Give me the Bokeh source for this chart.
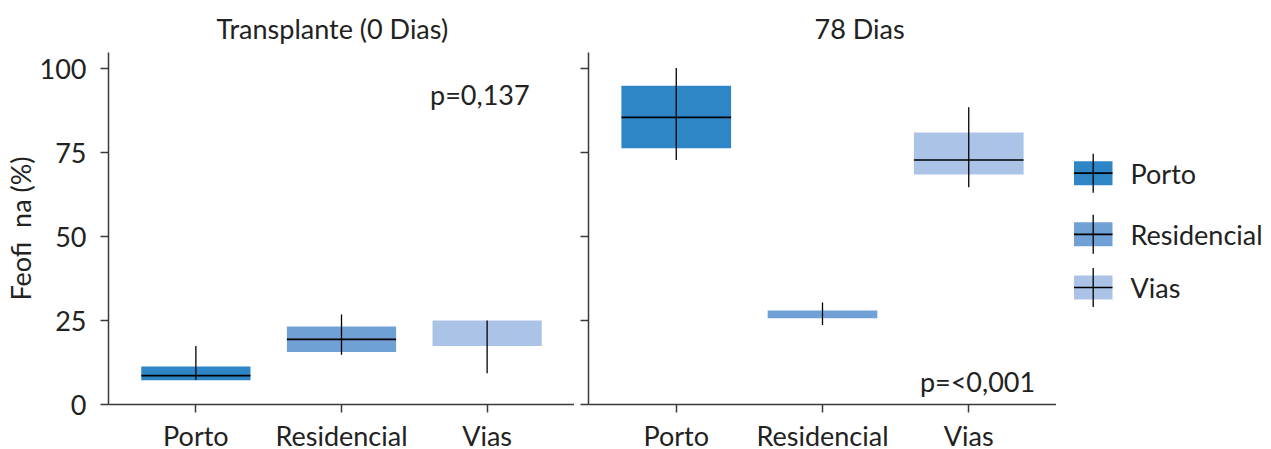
import math
from bokeh.plotting import figure
from bokeh.models import Range1d, FixedTicker, Label, ColumnDataSource
from bokeh.layouts import row
from bokeh.embed import file_html
from bokeh.resources import INLINE
from bokeh.core.properties import value

# ---------------- data ----------------
categories = ["Porto", "Residencial", "Vias"]
colors = ["#2E86C7", "#70A1D6", "#AAC3E6"]
panel_titles = ["Transplante (0 Dias)", "78 Dias"]
p_values = ["p=0,137", "p=<0,001"]
y_label = "Feofi\u00a0\u00a0na (%)"
y_ticks = [0, 25, 50, 75, 100]
nan = float("nan")

t0_low = [7.3, 14.8, 9.3]
t0_q1 = [7.2, 15.6, 17.4]
t0_median = [8.6, 19.4, nan]
t0_q3 = [11.3, 23.2, 25.0]
t0_high = [17.4, 26.8, 25.0]

t78_low = [72.8, 23.7, 64.7]
t78_q1 = [76.3, 25.7, 68.5]
t78_median = [85.5, nan, 72.8]
t78_q3 = [94.9, 28.0, 81.0]
t78_high = [100.2, 30.4, 88.5]

# ---------------- style ----------------
FONT = "Lato"
FS = "27px"
TXT = "#222222"
AXC = "#3a3a3a"
BOX_W = 0.75
TOP, BOTTOM, FH = 52, 45, 352


def make_panel(title, low, q1, med, q3, high, ptext, pxy, first, title_offset):
    p = figure(
        frame_width=466 if first else 468, frame_height=FH,
        x_range=Range1d(-0.6, 2.6), y_range=Range1d(0, 104.8),
        output_backend="svg", toolbar_location=None,
        min_border_left=107 if first else 14, min_border_right=0,
        min_border_top=TOP, min_border_bottom=BOTTOM,
    )
    p.outline_line_color = None
    p.grid.visible = False
    p.background_fill_color = "white"
    p.border_fill_color = "white"

    p.title.text = title
    p.title.align = "left"
    p.title.offset = title_offset
    p.title.text_font = FONT
    p.title.text_font_size = FS
    p.title.text_font_style = "normal"
    p.title.text_color = TXT
    p.title.standoff = 16

    xs = list(range(len(categories)))
    src = ColumnDataSource(dict(
        x=xs, low=low, q1=q1, med=med, q3=q3, high=high, color=colors,
        left=[x - BOX_W / 2 for x in xs], right=[x + BOX_W / 2 for x in xs],
    ))
    p.quad(left="left", right="right", bottom="q1", top="q3", fill_color="color",
           line_color=None, source=src)
    p.segment(x0="x", y0="low", x1="x", y1="high", line_color="black",
              line_width=1.3, source=src)
    p.segment(x0="left", y0="med", x1="right", y1="med", line_color="black",
              line_width=1.7, source=src)

    for ax in (p.xaxis[0], p.yaxis[0]):
        ax.axis_line_color = AXC
        ax.axis_line_width = 1.5
        ax.major_tick_line_color = AXC
        ax.major_tick_line_width = 1.5
        ax.major_tick_in = 0
        ax.major_tick_out = 8
        ax.minor_tick_line_color = None
        ax.major_label_text_font = FONT
        ax.major_label_text_font_size = FS
        ax.major_label_text_color = TXT

    p.xaxis.ticker = FixedTicker(ticks=xs)
    p.xaxis.major_label_overrides = {i: c for i, c in enumerate(categories)}
    p.xaxis.major_label_standoff = 6

    p.yaxis.ticker = FixedTicker(ticks=y_ticks)
    if first:
        p.yaxis.major_label_standoff = 14
        p.yaxis.axis_label = y_label
        p.yaxis.axis_label_text_font = FONT
        p.yaxis.axis_label_text_font_size = FS
        p.yaxis.axis_label_text_font_style = "normal"
        p.yaxis.axis_label_text_color = TXT
        p.yaxis.axis_label_standoff = 0
    else:
        # ticks only, no tick labels drawn
        p.yaxis.major_label_text_font_size = "1px"
        p.yaxis.major_label_text_color = None
        p.yaxis.major_label_standoff = 0

    p.add_layout(Label(x=pxy[0], y=pxy[1], text=ptext, text_align="center",
                       text_baseline="middle", text_font=FONT,
                       text_font_size=FS, text_color=TXT))
    return p


p1 = make_panel(panel_titles[0], t0_low, t0_q1, t0_median, t0_q3, t0_high,
                p_values[0], (1.95, 92.3), True, 108)
p2 = make_panel(panel_titles[1], t78_low, t78_q1, t78_median, t78_q3, t78_high,
                p_values[1], (2.06, 6.8), False, 226)

# ---------------- legend panel (coordinates = page pixels) ----------------
leg_rows = [172.7, 233.8, 287.0]   # vertical pixel positions of legend rows
leg = figure(
    frame_width=216, frame_height=FH,
    x_range=Range1d(1055, 1271), y_range=Range1d(404, 52),
    output_backend="svg", toolbar_location=None,
    x_axis_location=None, y_axis_location=None,
    min_border_left=0, min_border_right=0,
    min_border_top=TOP, min_border_bottom=BOTTOM,
)
leg.outline_line_color = None
leg.grid.visible = False
lsrc = ColumnDataSource(dict(
    y=leg_rows, top=[r - 12 for r in leg_rows], bottom=[r + 12 for r in leg_rows],
    wt=[r - 19.5 for r in leg_rows], wb=[r + 19.5 for r in leg_rows],
    color=colors, label=categories,
))
leg.quad(left=1072.5, right=1111, top="top", bottom="bottom", fill_color="color",
         line_color=None, source=lsrc)
leg.segment(x0=1091.7, x1=1091.7, y0="wt", y1="wb", line_color="black", line_width=1.3, source=lsrc)
leg.segment(x0=1072.5, x1=1111, y0="y", y1="y", line_color="black", line_width=1.7, source=lsrc)
leg.text(x=1129, y="y", text="label", text_baseline="middle", text_align="left",
         text_font=value(FONT), text_font_size=FS, text_color=TXT, source=lsrc)

layout = row(p1, p2, leg, spacing=0)
open("out.html", "w").write(file_html(layout, INLINE))
